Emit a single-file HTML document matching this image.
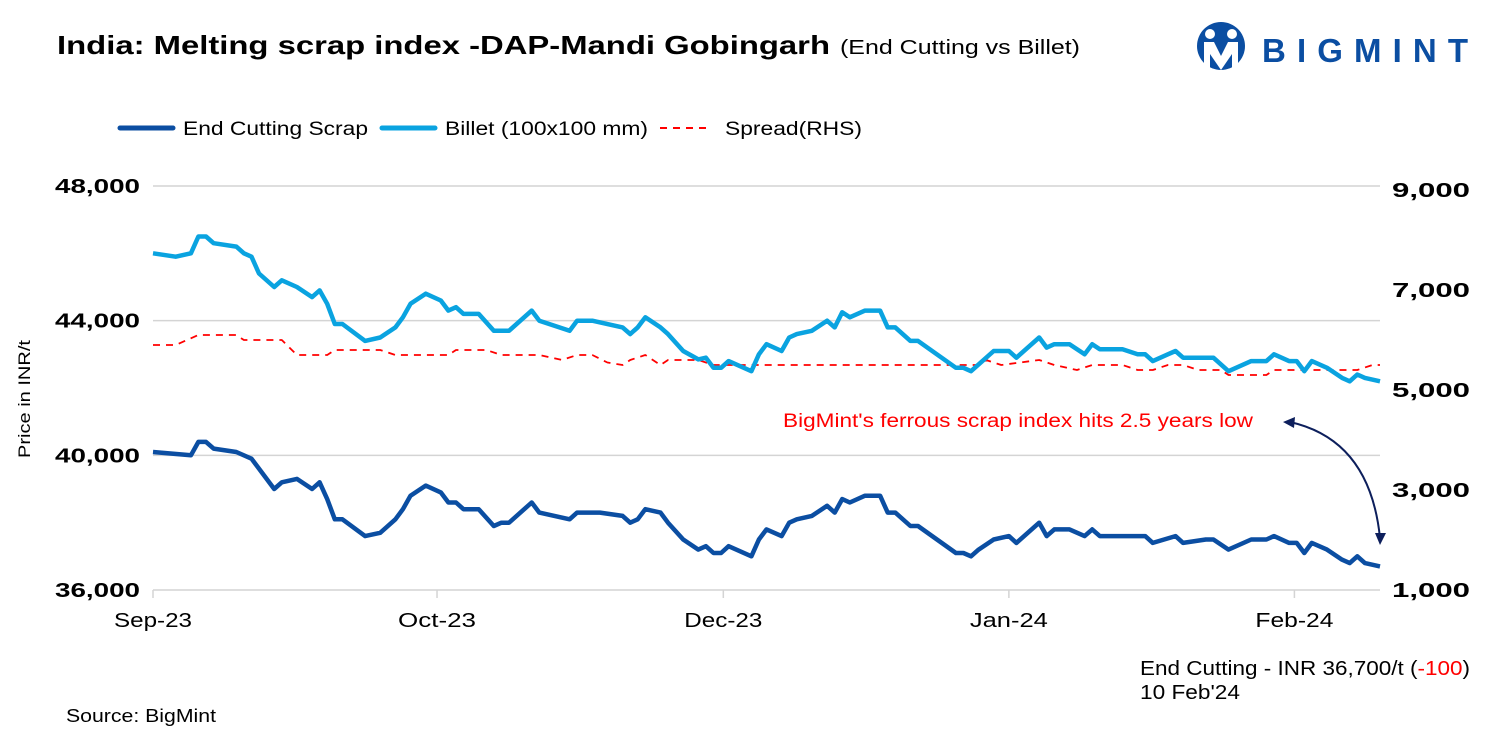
<!DOCTYPE html>
<html><head><meta charset="utf-8"><style>
html,body{margin:0;padding:0;background:#fff;}
svg{display:block;font-family:"Liberation Sans",sans-serif;}
</style></head><body>
<svg id="chart" width="1500" height="750" viewBox="0 0 1500 750" xmlns="http://www.w3.org/2000/svg">
<text x="57" y="54" font-size="26" font-weight="bold" fill="#000" textLength="773" lengthAdjust="spacingAndGlyphs">India: Melting scrap index -DAP-Mandi Gobingarh</text>
<text x="840" y="54" font-size="20" fill="#000" textLength="240" lengthAdjust="spacingAndGlyphs">(End Cutting vs Billet)</text>
<g>
<circle cx="1221" cy="46" r="24" fill="#0b4ea2"/>
<circle cx="1210" cy="34" r="5" fill="#fff"/><circle cx="1232" cy="34" r="5" fill="#fff"/>
<path d="M1204 42 h10 l7 14 l7 -14 h10 v28 h-6 v-16 l-11 16 l-11 -16 v16 h-6z" fill="#fff"/>
<text x="1262" y="62" font-size="33" font-weight="bold" fill="#0b4ea2" textLength="206" lengthAdjust="spacing">BIGMINT</text>
</g>
<g>
<g><line x1="120" y1="128" x2="173" y2="128" stroke="#0b4ea2" stroke-width="5" stroke-linecap="round"/><text x="183" y="135" font-size="19" textLength="185" lengthAdjust="spacingAndGlyphs">End Cutting Scrap</text></g>
<g><line x1="382" y1="128" x2="435" y2="128" stroke="#0aa3e0" stroke-width="5" stroke-linecap="round"/><text x="445" y="135" font-size="19" textLength="203" lengthAdjust="spacingAndGlyphs">Billet (100x100 mm)</text></g>
<g><line x1="660" y1="128" x2="712" y2="128" stroke="#f00" stroke-width="2" stroke-dasharray="7,6"/><text x="725" y="135" font-size="19" textLength="137" lengthAdjust="spacingAndGlyphs">Spread(RHS)</text></g>
</g>
<text transform="translate(30,399) rotate(-90)" text-anchor="middle" font-size="17" fill="#000" textLength="118" lengthAdjust="spacingAndGlyphs">Price in INR/t</text>
<g id="grid"></g><g id="axes"></g><g id="series"></g>
<text x="1018" y="427" text-anchor="middle" font-size="19" fill="#f00" textLength="470" lengthAdjust="spacingAndGlyphs">BigMint's ferrous scrap index hits 2.5 years low</text>
<g>
<path d="M1290 422 Q1370 440 1380 538" fill="none" stroke="#0d1f5c" stroke-width="2"/>
<polygon points="1283,422 1295,417 1294,428" fill="#0d1f5c"/>
<polygon points="1380,545 1375,533 1386,533" fill="#0d1f5c"/>
</g>
<text x="1140" y="675" font-size="20" fill="#000" textLength="330" lengthAdjust="spacingAndGlyphs">End Cutting - INR 36,700/t (<tspan fill="#f00">-100</tspan>)</text>
<text x="1140" y="699" font-size="20" fill="#000" textLength="100" lengthAdjust="spacingAndGlyphs">10 Feb'24</text>
<text x="66" y="722" font-size="18" fill="#000" textLength="150" lengthAdjust="spacingAndGlyphs">Source: BigMint</text>
</svg>
<script>
const scrapIdx=[0,5,6,7,8,11,13,16,17,19,21,22,23,24,25,28,30,32,33,34,36,38,39,40,41,43,45,46,47,50,51,55,56,59,62,63,64,65,67,68,70,72,73,74,75,76,79,80,81,83,84,85,87,89,90,91,92,94,96,97,98,100,101,106,107,108,109,111,113,114,116,117,118,119,121,123,124,125,131,132,135,136,139,140,142,145,147,148,150,151,152,153,155,157,158,159,160,162];
const scrapVal=[40100,40000,40400,40400,40200,40100,39900,39000,39200,39300,39000,39200,38700,38100,38100,37600,37700,38100,38400,38800,39100,38900,38600,38600,38400,38400,37900,38000,38000,38600,38300,38100,38300,38300,38200,38000,38100,38400,38300,38000,37500,37200,37300,37100,37100,37300,37000,37500,37800,37600,38000,38100,38200,38500,38300,38700,38600,38800,38800,38300,38300,37900,37900,37100,37100,37000,37200,37500,37600,37400,37800,38000,37600,37800,37800,37600,37800,37600,37600,37400,37600,37400,37500,37500,37200,37500,37500,37600,37400,37400,37100,37400,37200,36900,36800,37000,36800,36700];
const billetIdx=[0,3,5,6,7,8,11,12,13,14,16,17,19,21,22,23,24,25,28,30,32,33,34,36,38,39,40,41,43,45,47,50,51,55,56,58,62,63,64,65,67,68,70,72,73,74,75,76,79,80,81,83,84,85,87,89,90,91,92,94,96,97,98,100,101,106,107,108,109,111,113,114,116,117,118,119,121,123,124,125,128,130,131,132,134,135,136,140,142,145,147,148,150,151,152,153,155,157,158,159,160,162];
const billetVal=[46000,45900,46000,46500,46500,46300,46200,46000,45900,45400,45000,45200,45000,44700,44900,44500,43900,43900,43400,43500,43800,44100,44500,44800,44600,44300,44400,44200,44200,43700,43700,44300,44000,43700,44000,44000,43800,43600,43800,44100,43800,43600,43100,42850,42900,42600,42600,42800,42500,43000,43300,43100,43500,43600,43700,44000,43800,44250,44100,44300,44300,43800,43800,43400,43400,42600,42600,42500,42700,43100,43100,42900,43300,43500,43200,43300,43300,43000,43300,43150,43150,43000,43000,42800,43000,43100,42900,42900,42500,42800,42800,43000,42800,42800,42500,42800,42600,42300,42200,42400,42300,42200];
const spreadIdx=[0,3,6,11,12,17,19,23,24,30,32,39,40,44,46,51,54,56,58,60,62,63,65,67,68,72,74,80,109,110,112,117,119,122,124,128,130,132,134,136,138,141,142,147,148,159,161,162];
const spreadVal=[5900,5900,6100,6100,6000,6000,5700,5700,5800,5800,5700,5700,5800,5800,5700,5700,5600,5700,5700,5550,5500,5600,5700,5500,5600,5600,5500,5500,5500,5600,5500,5600,5500,5400,5500,5500,5400,5400,5500,5500,5400,5400,5300,5300,5400,5400,5500,5500];
const leftTicks=[36000,40000,44000,48000];
const rightTicks=[1000,3000,5000,7000,9000];
const xTickLabels=["Sep-23","Oct-23","Dec-23","Jan-24","Feb-24"];
const xTickIdx=[0,37.5,75.3,113,150.7];

const NS="http://www.w3.org/2000/svg";
const X0=153,X1=1380,NMAX=162;
const xs=i=>X0+i*(X1-X0)/NMAX;
const yL=v=>590-(v-36000)*(404/12000);
const yR=v=>590-(v-1000)*(400/8000);
function mk(tag,attrs,parent){const e=document.createElementNS(NS,tag);for(const k in attrs)e.setAttribute(k,attrs[k]);parent.appendChild(e);return e;}
const grid=document.getElementById('grid'),axes=document.getElementById('axes'),ser=document.getElementById('series');
leftTicks.forEach(v=>{
  const g=mk('line',{x1:X0,x2:X1,y1:yL(v),y2:yL(v),stroke:'#d4d4d4','stroke-width':1.5},grid);
  
  
  const t=mk('text',{x:140,y:yL(v)+7,'text-anchor':'end','font-size':20,'font-weight':'bold',textLength:85,lengthAdjust:'spacingAndGlyphs'},axes);
  t.textContent=v.toLocaleString('en-US');
  
  
});
rightTicks.forEach(v=>{
  const t=mk('text',{x:1392,y:yR(v)+7,'font-size':20,'font-weight':'bold',textLength:78,lengthAdjust:'spacingAndGlyphs'},axes);
  t.textContent=v.toLocaleString('en-US');
  
  
});
xTickIdx.forEach((i,k)=>{
  const l=mk('line',{x1:xs(i),x2:xs(i),y1:590,y2:598,stroke:'#d4d4d4','stroke-width':1.5},axes);
  
  
  const t=mk('text',{x:xs(i),y:627,'text-anchor':'middle','font-size':20,textLength:78,lengthAdjust:'spacingAndGlyphs'},axes);
  t.textContent=xTickLabels[k];
  
  
});
function line(idx,vals,ys,attrs,name){
  const p=idx.map((i,k)=>xs(i).toFixed(1)+','+ys(vals[k]).toFixed(1)).join(' ');
  const e=mk('polyline',Object.assign({points:p,fill:'none','stroke-linejoin':'round'},attrs),ser);
  
  
}
line(spreadIdx,spreadVal,yR,{stroke:'#f00','stroke-width':1.8,'stroke-dasharray':'7,6'},'spread-line');
line(billetIdx,billetVal,yL,{stroke:'#0aa3e0','stroke-width':4.5},'billet-line');
line(scrapIdx,scrapVal,yL,{stroke:'#0b4ea2','stroke-width':4.5},'scrap-line');
</script>
</body></html>
